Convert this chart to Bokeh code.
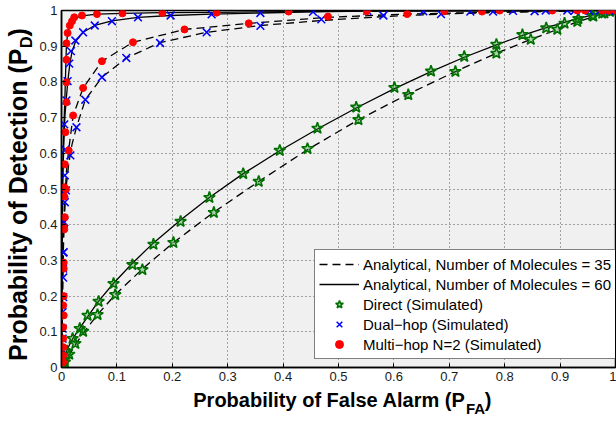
import math
from bokeh.plotting import figure
from bokeh.layouts import row, column
from bokeh.models import FixedTicker, Label, Legend, LegendItem, Range1d
from bokeh.embed import file_html
from bokeh.resources import INLINE

# ---------------- data ----------------
tick_values = [0, 0.1, 0.2, 0.3, 0.4, 0.5, 0.6, 0.7, 0.8, 0.9, 1.0]
tick_labels = ["0", "0.1", "0.2", "0.3", "0.4", "0.5", "0.6", "0.7", "0.8", "0.9", "1"]

direct35_x = [0, 0.005, 0.01, 0.02, 0.03, 0.045, 0.065, 0.097, 0.146, 0.202, 0.275, 0.356, 0.444, 0.536,
              0.626, 0.711, 0.785, 0.847, 0.895, 0.931, 0.96, 0.98, 1.0]
direct35_y = [0, 0.013, 0.026, 0.051, 0.075, 0.108, 0.148, 0.204, 0.276, 0.350, 0.435, 0.521, 0.610, 0.694,
              0.766, 0.829, 0.880, 0.919, 0.947, 0.968, 0.983, 0.993, 1.0]
direct60_x = [0, 0.01, 0.02, 0.033, 0.047, 0.067, 0.094, 0.128, 0.166, 0.215, 0.267, 0.328, 0.394, 0.462,
              0.532, 0.601, 0.667, 0.727, 0.785, 0.832, 0.875, 0.908, 0.933, 0.958, 0.98, 1.0]
direct60_y = [0, 0.05, 0.08, 0.11, 0.142, 0.186, 0.236, 0.292, 0.349, 0.413, 0.476, 0.543, 0.607, 0.668,
              0.727, 0.781, 0.829, 0.869, 0.904, 0.930, 0.952, 0.967, 0.978, 0.987, 0.994, 1.0]
dual35_x = [0, 0.002, 0.004, 0.008, 0.013, 0.019, 0.027, 0.043, 0.073, 0.117, 0.178, 0.262, 0.359, 0.469,
            0.581, 0.685, 0.8, 0.9, 1.0]
dual35_y = [0, 0.2, 0.38, 0.5, 0.57, 0.625, 0.673, 0.750, 0.813, 0.867, 0.910, 0.939, 0.958, 0.972,
            0.983, 0.990, 0.995, 0.998, 1.0]
dual60_x = [0, 0.001, 0.002, 0.004, 0.006, 0.009, 0.012, 0.015, 0.019, 0.025, 0.039, 0.06, 0.091, 0.138,
            0.197, 0.271, 0.359, 0.454, 0.55, 0.7, 1.0]
dual60_y = [0, 0.3, 0.5, 0.62, 0.70, 0.76, 0.81, 0.85, 0.885, 0.912, 0.939, 0.958, 0.971, 0.981,
            0.986, 0.990, 0.993, 0.996, 0.998, 0.999, 1.0]
multi35_x = [0, 0.002, 0.005, 0.009, 0.013, 0.021, 0.039, 0.073, 0.129, 0.222, 0.338, 0.481, 0.624, 0.8, 1.0]
multi35_y = [0, 0.25, 0.45, 0.55, 0.61, 0.706, 0.783, 0.858, 0.911, 0.947, 0.964, 0.981, 0.990, 0.996, 1.0]
multi60_x = [0, 0.001, 0.002, 0.004, 0.006, 0.007, 0.008, 0.009, 0.011, 0.015, 0.019, 0.023, 0.037, 0.064,
             0.11, 0.182, 0.28, 0.41, 0.55, 0.7, 1.0]
multi60_y = [0, 0.35, 0.55, 0.66, 0.75, 0.80, 0.86, 0.905, 0.935, 0.957, 0.969, 0.978, 0.985, 0.990,
             0.992, 0.994, 0.995, 0.997, 0.998, 0.999, 1.0]

sim_direct35_x = [0.002, 0.006, 0.014, 0.025, 0.039, 0.065, 0.097, 0.146, 0.202, 0.275, 0.356, 0.444, 0.536,
                  0.626, 0.711, 0.785, 0.847, 0.895, 0.931, 0.96, 0.98, 0.995]
sim_direct35_y = [0.004, 0.015, 0.037, 0.067, 0.101, 0.148, 0.204, 0.274, 0.350, 0.434, 0.521, 0.613, 0.694,
                  0.764, 0.829, 0.880, 0.919, 0.947, 0.969, 0.984, 0.993, 0.999]
sim_direct60_x = [0.002, 0.005, 0.01, 0.02, 0.033, 0.047, 0.067, 0.094, 0.128, 0.166, 0.215, 0.267, 0.328,
                  0.394, 0.462, 0.532, 0.601, 0.667, 0.727, 0.785, 0.832, 0.875, 0.908, 0.933, 0.958, 0.976,
                  0.99, 1.0]
sim_direct60_y = [0.008, 0.022, 0.046, 0.081, 0.109, 0.146, 0.185, 0.235, 0.288, 0.345, 0.409, 0.476, 0.543,
                  0.608, 0.670, 0.729, 0.784, 0.830, 0.871, 0.905, 0.932, 0.951, 0.964, 0.977, 0.986, 0.992,
                  0.997, 1.0]
sim_dual35_x = [0.002, 0.002, 0.003, 0.003, 0.004, 0.005, 0.006, 0.008, 0.016, 0.027, 0.043, 0.073, 0.117,
                0.178, 0.262, 0.359, 0.469, 0.581, 0.685, 0.779, 0.854, 0.913, 0.953, 0.99]
sim_dual35_y = [0.048, 0.109, 0.197, 0.277, 0.323, 0.407, 0.463, 0.496, 0.594, 0.673, 0.750, 0.813, 0.867,
                0.909, 0.939, 0.957, 0.975, 0.986, 0.990, 0.997, 0.998, 1.0, 0.999, 1.0]
sim_dual60_x = [0.001, 0.002, 0.002, 0.003, 0.003, 0.004, 0.005, 0.006, 0.007, 0.005, 0.009, 0.011, 0.014,
                0.017, 0.025, 0.039, 0.06, 0.091, 0.138, 0.197, 0.271, 0.359, 0.454, 0.552, 0.653, 0.738,
                0.815, 0.874, 0.926, 0.972, 1.0]
sim_dual60_y = [0.02, 0.081, 0.155, 0.252, 0.322, 0.406, 0.487, 0.538, 0.61, 0.681, 0.748, 0.802, 0.851,
                0.886, 0.916, 0.939, 0.958, 0.970, 0.981, 0.986, 0.989, 0.993, 0.996, 0.999, 0.998, 0.997,
                0.999, 1.0, 0.999, 1.0, 1.0]
sim_multi35_x = [0.003, 0.003, 0.004, 0.004, 0.004, 0.005, 0.006, 0.008, 0.013, 0.021, 0.039, 0.073, 0.129,
                 0.222, 0.338, 0.481, 0.624, 0.759, 0.931, 0.976, 1.0]
sim_multi35_y = [0.034, 0.081, 0.146, 0.200, 0.277, 0.387, 0.421, 0.499, 0.608, 0.706, 0.783, 0.858, 0.911,
                 0.947, 0.964, 0.983, 0.990, 0.997, 1.0, 1.0, 1.0]
sim_multi60_x = [0.003, 0.003, 0.003, 0.003, 0.004, 0.004, 0.005, 0.005, 0.006, 0.007, 0.009, 0.009, 0.009,
                 0.009, 0.011, 0.015, 0.019, 0.023, 0.037, 0.064, 0.110, 0.182, 0.280, 0.410, 0.551, 0.691,
                 0.791, 0.886, 0.945, 0.988]
sim_multi60_y = [0.015, 0.057, 0.113, 0.174, 0.294, 0.393, 0.479, 0.505, 0.569, 0.659, 0.743, 0.799, 0.862,
                 0.908, 0.937, 0.958, 0.970, 0.981, 0.986, 0.990, 0.992, 0.993, 0.994, 0.997, 0.998, 0.998,
                 1.0, 1.0, 1.0, 1.0]

legend_labels = ["Analytical, Number of Molecules = 35", "Analytical, Number of Molecules = 60",
                 "Direct (Simulated)", "Dual\u2212hop (Simulated)", "Multi\u2212hop N=2 (Simulated)"]
x_title = ("Probability of False Alarm (P", "FA", ")")
y_title = ("Probability of Detection (P", "D", ")")

FONT = "Liberation Sans"
MID = 0.3465   # distance (in em) from baseline up to the middle of the ascent/descent box

# ---------------- layout sizes ----------------
W, H = 616, 426
LEFT_W = 36          # strip holding the y title
BOTTOM_H = 38        # strip holding the x title
MAIN_W, MAIN_H = W - LEFT_W, H - BOTTOM_H
FRAME_BOTTOM = 367   # canvas y of the plot frame's bottom edge

# ---------------- main plot ----------------
p = figure(width=MAIN_W, height=MAIN_H, x_range=(0, 1), y_range=(0, 1), title=None,
           output_backend="svg", toolbar_location=None,
           min_border_left=61 - LEFT_W, min_border_right=1, min_border_top=10,
           min_border_bottom=MAIN_H - FRAME_BOTTOM)
p.background_fill_color = "#f0f0f0"
p.border_fill_color = "white"
p.outline_line_color = "black"
p.outline_line_width = 1.5

for ax in (p.xaxis[0], p.yaxis[0]):
    ax.ticker = FixedTicker(ticks=tick_values)
    ax.major_label_overrides = {v: l for v, l in zip(tick_values, tick_labels)}
    ax.major_label_text_font = FONT
    ax.major_label_text_font_size = "13px"
    ax.major_label_text_color = "#1a1a1a"
    ax.major_tick_in = 4
    ax.major_tick_out = 0
    ax.minor_tick_in = 0
    ax.minor_tick_out = 0
    ax.axis_line_color = "black"
    ax.axis_line_width = 1.5
    ax.major_tick_line_color = "black"
    ax.major_label_standoff = 4

for g in (p.xgrid[0], p.ygrid[0]):
    g.ticker = FixedTicker(ticks=tick_values)
    g.grid_line_color = "#555555"
    g.grid_line_dash = "1 3"
    g.grid_line_width = 1

DASH = "8 5"
l_d35 = p.line(direct35_x, direct35_y, line_color="black", line_width=1.3, line_dash=DASH)
l_d60 = p.line(direct60_x, direct60_y, line_color="black", line_width=1.3)
p.line(dual35_x, dual35_y, line_color="black", line_width=1.3, line_dash=DASH)
p.line(dual60_x, dual60_y, line_color="black", line_width=1.3)
p.line(multi35_x, multi35_y, line_color="black", line_width=1.3, line_dash=DASH)
p.line(multi60_x, multi60_y, line_color="black", line_width=1.3)

star_kw = dict(marker="star", size=12, line_color="#007000", line_width=1.6,
               fill_color="#2a9a2a", fill_alpha=0.35)
s1 = p.scatter(sim_direct60_x, sim_direct60_y, **star_kw)
p.scatter(sim_direct35_x, sim_direct35_y, **star_kw)

x_kw = dict(marker="x", size=11, line_color="#0000ff", line_width=1.5)
s2 = p.scatter(sim_dual60_x, sim_dual60_y, **x_kw)
p.scatter(sim_dual35_x, sim_dual35_y, **x_kw)

dot_kw = dict(marker="circle", size=7, line_color="#ff0000", fill_color="#ff0000")
s3 = p.scatter(sim_multi60_x, sim_multi60_y, **dot_kw)
p.scatter(sim_multi35_x, sim_multi35_y, **dot_kw)

legend = Legend(items=[LegendItem(label=legend_labels[0], renderers=[l_d35]),
                       LegendItem(label=legend_labels[1], renderers=[l_d60]),
                       LegendItem(label=legend_labels[2], renderers=[s1]),
                       LegendItem(label=legend_labels[3], renderers=[s2]),
                       LegendItem(label=legend_labels[4], renderers=[s3])],
                location=(253, 8), margin=0, padding=4, spacing=0,
                glyph_width=40, glyph_height=20, label_height=20, label_standoff=4,
                label_text_font=FONT, label_text_font_size="15px", label_text_color="black",
                border_line_color="black", border_line_width=1,
                background_fill_color="white", background_fill_alpha=1.0)
p.add_layout(legend, "center")


def strip(width, height):
    f = figure(width=width, height=height, x_range=Range1d(0, width), y_range=Range1d(0, height),
               x_axis_type=None, y_axis_type=None, title=None, output_backend="svg",
               toolbar_location=None, min_border=0, min_border_left=0, min_border_right=0,
               min_border_top=0, min_border_bottom=0)
    f.outline_line_color = None
    f.background_fill_color = "white"
    f.border_fill_color = "white"
    return f


def title_label(f, txt, x, y, size, align, angle=0.0):
    f.add_layout(Label(x=x, y=y, text=txt, text_font=FONT, text_font_size=f"{size}px",
                       text_font_style="bold", text_align=align, text_baseline="middle",
                       text_color="black", angle=angle))


# ---------------- x title strip (below main plot) ----------------
bx = strip(MAIN_W, BOTTOM_H)
x_anchor = 459 - LEFT_W          # where "(P" ends, strip coordinates
base = H - 406                   # wanted baseline at canvas y = 406 (data y, from strip bottom)
title_label(bx, x_title[0], x_anchor, base + MID * 20, 20, "right")
title_label(bx, x_title[1], x_anchor + 0.5, base - 7 + MID * 15, 15, "left")
title_label(bx, x_title[2], x_anchor + 20, base + MID * 20, 20, "left")

# ---------------- y title strip (left of everything) ----------------
ly = strip(LEFT_W, H)
rot = math.pi / 2
y_anchor = H - 48                # where "(P" ends (data y, from bottom)
title_label(ly, y_title[0], 26 - MID * 25, y_anchor, 25, "right", rot)
title_label(ly, y_title[1], 32 - MID * 16, y_anchor + 0.5, 16, "left", rot)
title_label(ly, y_title[2], 26 - MID * 25, y_anchor + 12, 25, "left", rot)

layout = row(ly, column(p, bx, spacing=0), spacing=0)

open("out.html", "w").write(file_html(layout, INLINE))
